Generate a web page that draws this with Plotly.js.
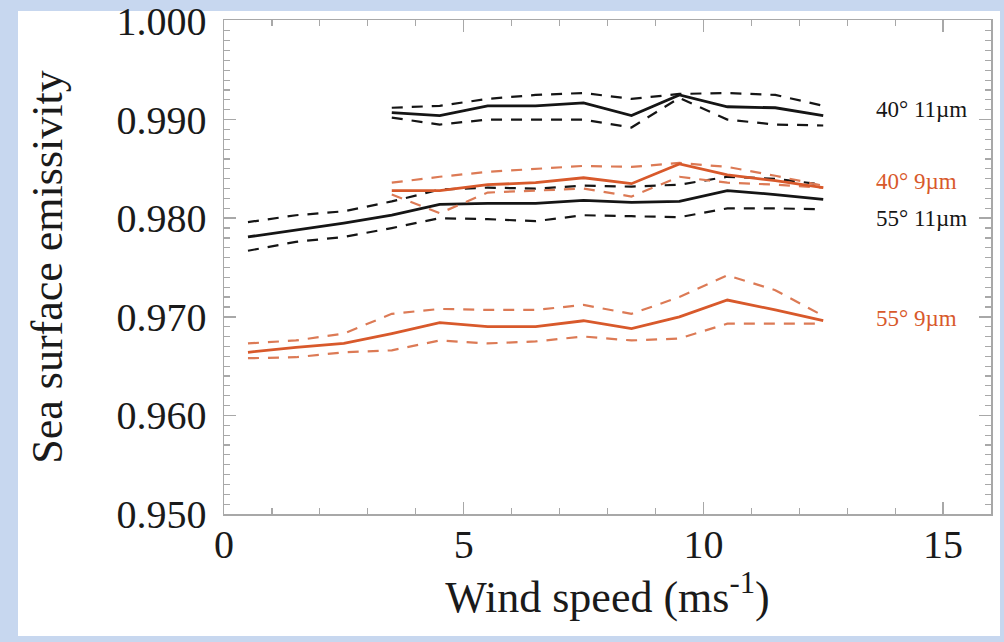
<!DOCTYPE html>
<html>
<head>
<meta charset="utf-8">
<script src="https://cdn.plot.ly/plotly-3.0.1.min.js"></script>
<style>
  html, body { margin: 0; padding: 0; background: #c7d7ef; width: 1004px; height: 642px; overflow: hidden; }
  #chart { position: absolute; left: 0; top: 0; width: 1004px; height: 642px; }
</style>
</head>
<body>
<div id="chart"></div>
<script>
// Wind speed bins (m/s)
const windSpeed55 = [0.5, 1.5, 2.5, 3.5, 4.5, 5.5, 6.5, 7.5, 8.5, 9.5, 10.5, 11.5, 12.5];
const windSpeed40 = [3.5, 4.5, 5.5, 6.5, 7.5, 8.5, 9.5, 10.5, 11.5, 12.5];

// 40° 11 µm
const e40_11_mean  = [0.9907, 0.9904, 0.9914, 0.9914, 0.9917, 0.9904, 0.9925, 0.9913, 0.9912, 0.9904];
const e40_11_upper = [0.9912, 0.9914, 0.9921, 0.9925, 0.9927, 0.9921, 0.9926, 0.9927, 0.9925, 0.9914];
const e40_11_lower = [0.9902, 0.9895, 0.9900, 0.9900, 0.9900, 0.9892, 0.9922, 0.9900, 0.9895, 0.9894];

// 40° 9 µm
const e40_9_mean  = [0.9828, 0.9828, 0.9834, 0.9836, 0.9841, 0.9835, 0.9855, 0.9844, 0.9838, 0.9831];
const e40_9_upper = [0.9836, 0.9842, 0.9847, 0.9850, 0.9853, 0.9852, 0.9856, 0.9852, 0.9843, 0.9833];
const e40_9_lower = [0.9824, 0.9805, 0.9826, 0.9828, 0.9830, 0.9822, 0.9842, 0.9836, 0.9834, 0.9831];

// 55° 11 µm
const e55_11_mean  = [0.9781, 0.9788, 0.9795, 0.9803, 0.9814, 0.9815, 0.9815, 0.9818, 0.9816, 0.9817, 0.9828, 0.9824, 0.9819];
const e55_11_upper = [0.9796, 0.9803, 0.9807, 0.9817, 0.9829, 0.9831, 0.9830, 0.9833, 0.9832, 0.9834, 0.9842, 0.9840, 0.9834];
const e55_11_lower = [0.9767, 0.9776, 0.9781, 0.9790, 0.9800, 0.9799, 0.9797, 0.9803, 0.9802, 0.9801, 0.9810, 0.9810, 0.9809];

// 55° 9 µm
const e55_9_mean  = [0.9664, 0.9669, 0.9673, 0.9683, 0.9694, 0.9690, 0.9690, 0.9696, 0.9688, 0.9700, 0.9717, 0.9707, 0.9696];
const e55_9_upper = [0.9673, 0.9676, 0.9683, 0.9703, 0.9708, 0.9707, 0.9707, 0.9712, 0.9703, 0.9720, 0.9742, 0.9727, 0.9701];
const e55_9_lower = [0.9658, 0.9659, 0.9664, 0.9666, 0.9676, 0.9673, 0.9675, 0.9680, 0.9676, 0.9678, 0.9693, 0.9693, 0.9693];

const seriesLabels = ["40° 11µm", "40° 9µm", "55° 11µm", "55° 9µm"];
const labelY = [0.99100, 0.98370, 0.98000, 0.9698];

const yTickVals = [0.95, 0.96, 0.97, 0.98, 0.99, 1.0];
const yTickText = ["0.950", "0.960", "0.970", "0.980", "0.990", "1.000"];
const xTickVals = [0, 5, 10, 15];
const xTickText = ["0", "5", "10", "15"];

const BLACK = "#151515";
const ORANGE = "#d8592b";
const ORANGE_DASH = "#dc7a55";

function band(x, mean, upper, lower, solidColor, dashColor, name) {
  return [
    {x: x, y: upper, mode: "lines", name: name + " upper", line: {color: dashColor, width: 2.2, dash: "11px,9px"}, hoverinfo: "skip"},
    {x: x, y: lower, mode: "lines", name: name + " lower", line: {color: dashColor, width: 2.2, dash: "11px,9px"}, hoverinfo: "skip"},
    {x: x, y: mean, mode: "lines", name: name, line: {color: solidColor, width: 2.8}}
  ];
}

const data = [].concat(
  band(windSpeed55, e55_9_mean, e55_9_upper, e55_9_lower, ORANGE, ORANGE_DASH, seriesLabels[3]),
  band(windSpeed55, e55_11_mean, e55_11_upper, e55_11_lower, BLACK, BLACK, seriesLabels[2]),
  band(windSpeed40, e40_9_mean, e40_9_upper, e40_9_lower, ORANGE, ORANGE_DASH, seriesLabels[1]),
  band(windSpeed40, e40_11_mean, e40_11_upper, e40_11_lower, BLACK, BLACK, seriesLabels[0])
);

const labelColors = [BLACK, ORANGE, BLACK, ORANGE];
const annotations = seriesLabels.map((t, i) => ({
  x: 13.55, y: labelY[i], xref: "x", yref: "y", text: t, showarrow: false,
  xanchor: "left", yanchor: "middle",
  font: {family: "Liberation Serif", size: 23, color: labelColors[i]}
}));

// Plot area spans 224..991 px horizontally and 20..514 px vertically
const PW = 767, PH = 494;
const panel = {
  type: "rect", xref: "paper", yref: "paper", layer: "below",
  x0: (18 - 224) / PW, x1: (1000 - 224) / PW,
  y0: (514 - 636) / PH, y1: (514 - 11) / PH,
  fillcolor: "#ffffff", line: {width: 0}
};

const axisCommon = {
  showgrid: false, zeroline: false, showline: true, linecolor: "#a8a8a8", linewidth: 1.5,
  mirror: "ticks", ticks: "inside", ticklen: 12, tickwidth: 1.5, tickcolor: "#a8a8a8",
  ticklabeloverflow: "allow",
  tickfont: {family: "Liberation Serif", size: 40, color: "#1a1a1a"}
};

const layout = {
  width: 1004, height: 642,
  margin: {l: 224, r: 13, t: 20, b: 128},
  paper_bgcolor: "#c7d7ef", plot_bgcolor: "#ffffff",
  showlegend: false,
  font: {family: "Liberation Serif", color: "#1a1a1a"},
  shapes: [panel],
  xaxis: Object.assign({}, axisCommon, {
    range: [0, 16], tickmode: "array", tickvals: xTickVals, ticktext: xTickText,
    ticklabelstandoff: -6,
    minor: {ticks: "inside", dtick: 1, tick0: 0, ticklen: 6, tickcolor: "#a8a8a8", tickwidth: 1.2},
    title: {text: "Wind speed (ms<sup>-1</sup>)", font: {family: "Liberation Serif", size: 44, color: "#1a1a1a"}, standoff: 4}
  }),
  yaxis: Object.assign({}, axisCommon, {
    range: [0.95, 1.0001], tickmode: "array", tickvals: yTickVals, ticktext: yTickText,
    ticklabelstandoff: 8,
    minor: {ticks: "inside", dtick: 0.001, tick0: 0.95, ticklen: 6, tickcolor: "#a8a8a8", tickwidth: 1.2},
    title: {text: "Sea surface emissivity", font: {family: "Liberation Serif", size: 44, color: "#1a1a1a"}, standoff: 40}
  }),
  annotations: annotations
};

Plotly.newPlot("chart", data, layout, {displayModeBar: false, staticPlot: true});
</script>
</body>
</html>
